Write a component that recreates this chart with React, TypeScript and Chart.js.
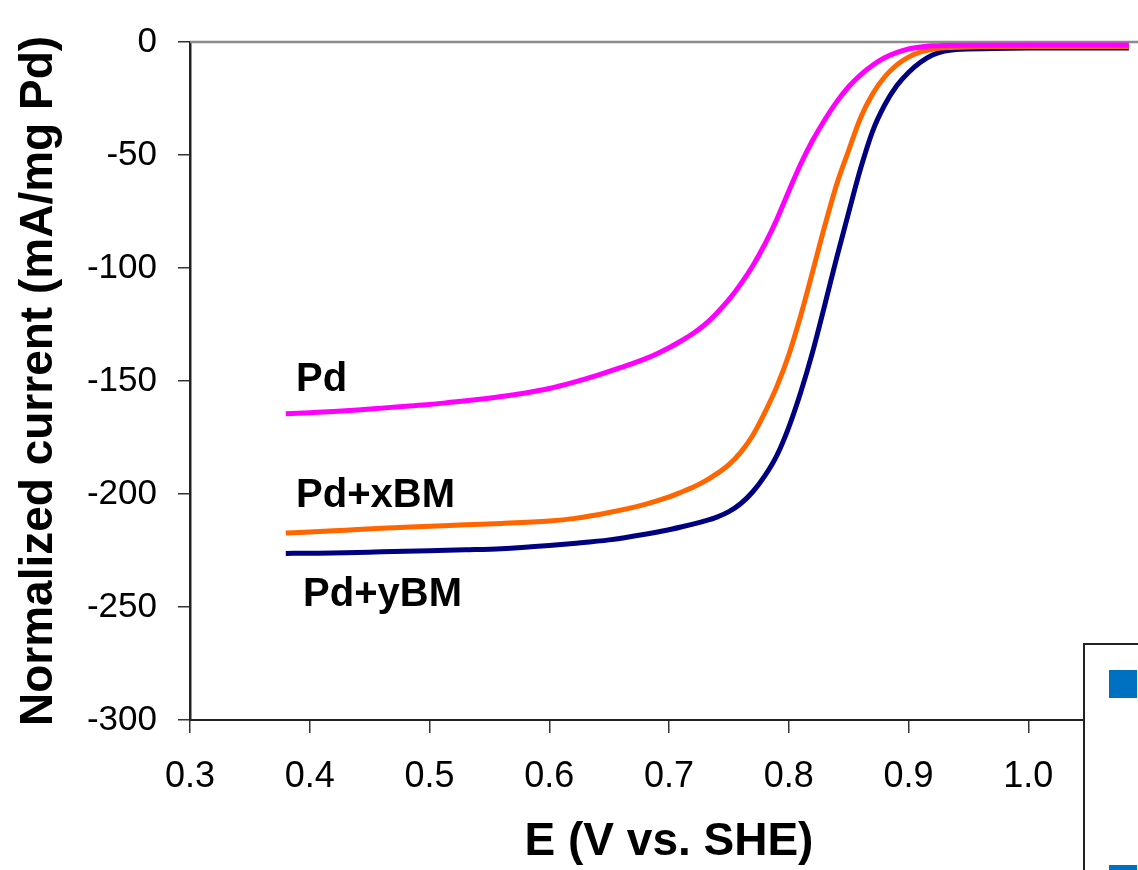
import React, { useEffect, useRef } from "react";
import { Chart, registerables } from "chart.js";

Chart.register(...registerables);

// ---- data ----
const seriesNames = ["Pd", "Pd+xBM", "Pd+yBM"];
const seriesColors = ["#FF00FF", "#FF6600", "#000080"];

const pdE = [0.38, 0.40, 0.42, 0.44, 0.46, 0.48, 0.50, 0.52, 0.54, 0.56, 0.58, 0.60, 0.62, 0.64, 0.66, 0.68, 0.69, 0.70, 0.71, 0.72, 0.73, 0.74, 0.75, 0.76, 0.77, 0.78, 0.79, 0.80, 0.81, 0.82, 0.83, 0.84, 0.85, 0.86, 0.87, 0.88, 0.89, 0.90, 0.91, 0.92, 0.95, 1.0, 1.05, 1.084];
const pdI = [-164.5, -164, -163.5, -162.8, -162, -161.2, -160.4, -159.3, -158.2, -156.9, -155.3, -153.3, -150.6, -147.5, -144, -140.2, -137.9, -135.3, -132.3, -129, -125, -119.9, -114, -107, -99, -89.5, -78.5, -66, -54, -43.5, -34.5, -26.5, -19.8, -14.5, -10.3, -7, -4.7, -3.1, -2.2, -1.7, -1.4, -1.3, -1.3, -1.3];

const xbmE = [0.38, 0.40, 0.43, 0.46, 0.50, 0.53, 0.56, 0.60, 0.62, 0.65, 0.68, 0.70, 0.71, 0.72, 0.73, 0.74, 0.75, 0.76, 0.77, 0.78, 0.79, 0.80, 0.81, 0.82, 0.83, 0.84, 0.85, 0.86, 0.87, 0.88, 0.89, 0.90, 0.91, 0.92, 0.93, 0.96, 1.0, 1.05, 1.084];
const xbmI = [-217.3, -216.8, -216, -215.2, -214.3, -213.6, -213.0, -211.9, -210.9, -208.2, -204.6, -201.3, -199.2, -197, -194.3, -191, -187, -181.5, -174, -164, -152.5, -138.5, -121, -101.5, -81.5, -63, -48, -33.5, -23, -15.5, -10.2, -6.7, -4.4, -3.2, -2.6, -2.1, -2.0, -2.0, -2.0];

const ybmE = [0.38, 0.40, 0.43, 0.46, 0.50, 0.53, 0.56, 0.60, 0.62, 0.65, 0.68, 0.70, 0.71, 0.72, 0.73, 0.74, 0.75, 0.76, 0.77, 0.78, 0.79, 0.80, 0.81, 0.82, 0.83, 0.84, 0.85, 0.86, 0.87, 0.88, 0.89, 0.90, 0.91, 0.92, 0.93, 0.94, 0.97, 1.0, 1.05, 1.084];
const ybmI = [-226.3, -226.2, -226, -225.6, -225.1, -224.7, -224.2, -222.8, -221.9, -220.3, -217.8, -215.8, -214.6, -213.3, -211.9, -210.2, -207.8, -204.2, -199, -192, -183, -170.5, -155, -137, -116.5, -95.5, -75.5, -56, -39.5, -28, -19.5, -13.5, -9, -5.8, -4, -3.3, -2.9, -2.7, -2.6, -2.6];

const curveLabels = ["Pd", "Pd+xBM", "Pd+yBM"];
const curveLabelE = [0.3886, 0.3886, 0.3944];
const curveLabelI = [-154.5, -205.8, -249.6];

const xTitle = "E (V vs. SHE)";
const yTitle = "Normalized current (mA/mg Pd)";

const FONT = "'Liberation Sans', Arial, Helvetica, sans-serif";

function toPoints(xs: number[], ys: number[]) {
  return xs.map((x, i) => ({ x, y: ys[i] }));
}

const overlayPlugin = {
  id: "overlay",
  beforeDatasetsDraw(chart: any) {
    const { ctx, chartArea } = chart;
    ctx.save();
    ctx.strokeStyle = "#8c8c8c";
    ctx.lineWidth = 2.5;
    ctx.beginPath();
    ctx.moveTo(chartArea.left, chartArea.top);
    ctx.lineTo(chartArea.right, chartArea.top);
    ctx.stroke();
    ctx.restore();
  },
  afterDatasetsDraw(chart: any) {
    const { ctx } = chart;
    const xs = chart.scales.x;
    const ys = chart.scales.y;
    ctx.save();
    ctx.fillStyle = "#000";
    ctx.font = `bold 40px ${FONT}`;
    ctx.textAlign = "left";
    ctx.textBaseline = "alphabetic";
    curveLabels.forEach((t, i) => {
      ctx.fillText(t, xs.getPixelForValue(curveLabelE[i]), ys.getPixelForValue(curveLabelI[i]));
    });
    ctx.restore();
  },
};

export default function App() {
  const ref = useRef<HTMLCanvasElement | null>(null);

  useEffect(() => {
    if (!ref.current) return;
    const allE = [pdE, xbmE, ybmE];
    const allI = [pdI, xbmI, ybmI];
    const chart = new Chart(ref.current, {
      type: "line",
      data: {
        datasets: seriesNames.map((name, i) => ({
          label: name,
          data: toPoints(allE[i], allI[i]),
          borderColor: seriesColors[i],
          backgroundColor: seriesColors[i],
          borderWidth: 5,
          pointRadius: 0,
          fill: false,
          cubicInterpolationMode: "monotone" as const,
        })),
      },
      options: {
        animation: false,
        responsive: false,
        layout: { padding: { top: 41, left: 0, right: 0, bottom: 0 } },
        plugins: { legend: { display: false }, tooltip: { enabled: false } },
        scales: {
          x: {
            type: "linear",
            min: 0.3,
            max: 1.1,
            ticks: {
              stepSize: 0.1,
              color: "#000",
              font: { family: FONT, size: 36 },
              padding: 22,
              maxRotation: 0,
              autoSkip: false,
              callback: (v: any) => (Math.abs(Number(v) - 1.1) < 1e-6 ? null : Number(v).toFixed(1)),
            },
            grid: { drawOnChartArea: false, drawTicks: true, tickLength: 13, color: "#333", lineWidth: 1.5 },
            border: { color: "#222", width: 2 },
            title: {
              display: true,
              text: xTitle,
              color: "#000",
              font: { family: FONT, size: 46, weight: "bold" },
              padding: { top: 0, bottom: 0 },
            },
            afterFit: (s: any) => {
              s.height = 150;
            },
          },
          y: {
            type: "linear",
            min: -300,
            max: 0,
            ticks: {
              stepSize: 50,
              color: "#000",
              font: { family: FONT, size: 35 },
              padding: 21,
              callback: (v: any) => String(v),
            },
            grid: { drawOnChartArea: false, drawTicks: true, tickLength: 12, color: "#333", lineWidth: 1.5 },
            border: { color: "#222", width: 2.5 },
            title: {
              display: true,
              text: yTitle,
              color: "#000",
              font: { family: FONT, size: 46, weight: "bold" },
              padding: { top: 12, bottom: 0 },
            },
            afterFit: (s: any) => {
              s.width = 190;
            },
          },
        },
      },
      plugins: [overlayPlugin],
    });
    return () => chart.destroy();
  }, []);

  return (
    <div
      style={{
        position: "fixed",
        left: 0,
        top: 0,
        width: 1138,
        height: 870,
        overflow: "hidden",
        background: "#fff",
      }}
    >
      <canvas ref={ref} width={1148} height={870} style={{ display: "block", width: 1148, height: 870 }} />
      <div
        style={{
          position: "absolute",
          left: 1083,
          top: 643,
          width: 200,
          height: 400,
          border: "2px solid #222",
          background: "#fff",
        }}
      >
        <div style={{ position: "absolute", left: 24, top: 25, width: 28, height: 28, background: "#0070C0" }} />
        <div style={{ position: "absolute", left: 24, top: 220, width: 28, height: 28, background: "#0070C0" }} />
      </div>
    </div>
  );
}
